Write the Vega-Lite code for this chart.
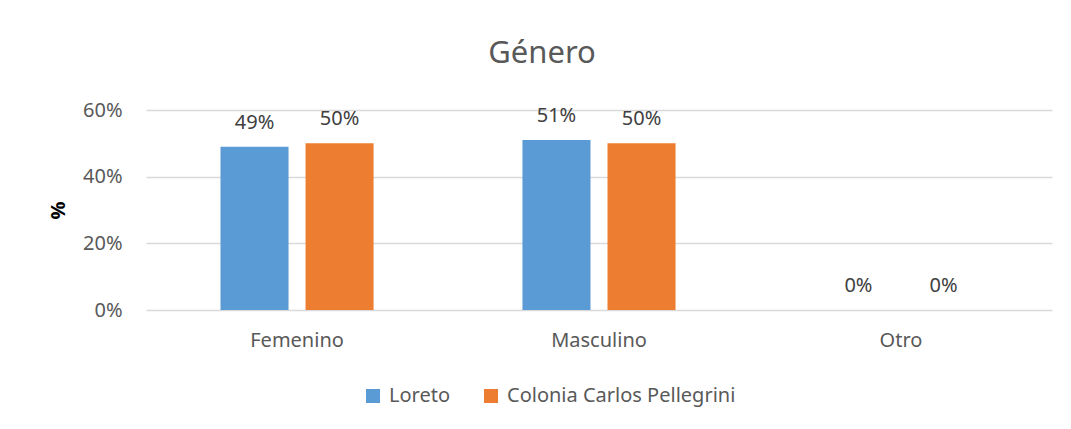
{
  "$schema": "https://vega.github.io/schema/vega-lite/v6.json",
  "autosize": {"type": "none"},
  "width": 906,
  "height": 200,
  "padding": {"left": 146, "top": 110, "right": 19, "bottom": 119},
  "background": "white",
  "title": {
    "text": "Género",
    "fontSize": 31,
    "font": "Noto Sans",
    "fontWeight": "normal",
    "color": "#595959",
    "anchor": "middle",
    "dx": -57,
    "offset": 30
  },
  "config": {
    "font": "Noto Sans",
    "view": {"stroke": null},
    "axis": {
      "labelFont": "Noto Sans",
      "labelFontSize": 20,
      "labelColor": "#595959",
      "domain": false,
      "ticks": false,
      "gridColor": "#D9D9D9",
      "gridWidth": 1.5
    }
  },
  "data": {
    "values": [
      {"genero": "Femenino", "lugar": "Loreto", "valor": 0.49},
      {"genero": "Femenino", "lugar": "Colonia Carlos Pellegrini", "valor": 0.50},
      {"genero": "Masculino", "lugar": "Loreto", "valor": 0.51},
      {"genero": "Masculino", "lugar": "Colonia Carlos Pellegrini", "valor": 0.50},
      {"genero": "Otro", "lugar": "Loreto", "valor": 0.0},
      {"genero": "Otro", "lugar": "Colonia Carlos Pellegrini", "valor": 0.0}
    ]
  },
  "encoding": {
    "x": {
      "field": "genero",
      "type": "nominal",
      "sort": ["Femenino", "Masculino", "Otro"],
      "scale": {"paddingInner": 0.493, "paddingOuter": 0.2467},
      "axis": {"title": null, "labelAngle": 0, "labelPadding": 20, "grid": false}
    },
    "xOffset": {
      "field": "lugar",
      "type": "nominal",
      "sort": ["Loreto", "Colonia Carlos Pellegrini"],
      "scale": {"paddingInner": 0.2, "paddingOuter": 0}
    },
    "y": {
      "field": "valor",
      "type": "quantitative",
      "scale": {"domain": [0, 0.6], "nice": false},
      "axis": {
        "format": ".0%",
        "values": [0, 0.2, 0.4, 0.6],
        "labelPadding": 24,
        "title": "%",
        "titleFont": "Noto Sans",
        "titleFontSize": 20,
        "titleFontWeight": "bold",
        "titleColor": "#000000",
        "titlePadding": 14
      }
    }
  },
  "layer": [
    {
      "mark": {"type": "bar"},
      "encoding": {
        "color": {
          "field": "lugar",
          "type": "nominal",
          "sort": ["Loreto", "Colonia Carlos Pellegrini"],
          "scale": {"domain": ["Loreto", "Colonia Carlos Pellegrini"], "range": ["#5B9BD5", "#ED7D31"]},
          "legend": {
            "title": null,
            "orient": "none",
            "legendX": 217,
            "legendY": 276,
            "direction": "horizontal",
            "symbolType": "square",
            "symbolSize": 196,
            "symbolStrokeWidth": 0,
            "labelFontSize": 20,
            "labelFont": "Noto Sans",
            "labelColor": "#595959",
            "labelOffset": 6,
            "labelLimit": 0,
            "columnPadding": 30
          }
        }
      }
    },
    {
      "mark": {"type": "text", "baseline": "alphabetic", "dy": -18, "fontSize": 20, "font": "Noto Sans", "color": "#404040"},
      "encoding": {
        "text": {"field": "valor", "type": "quantitative", "format": ".0%"}
      }
    }
  ]
}
